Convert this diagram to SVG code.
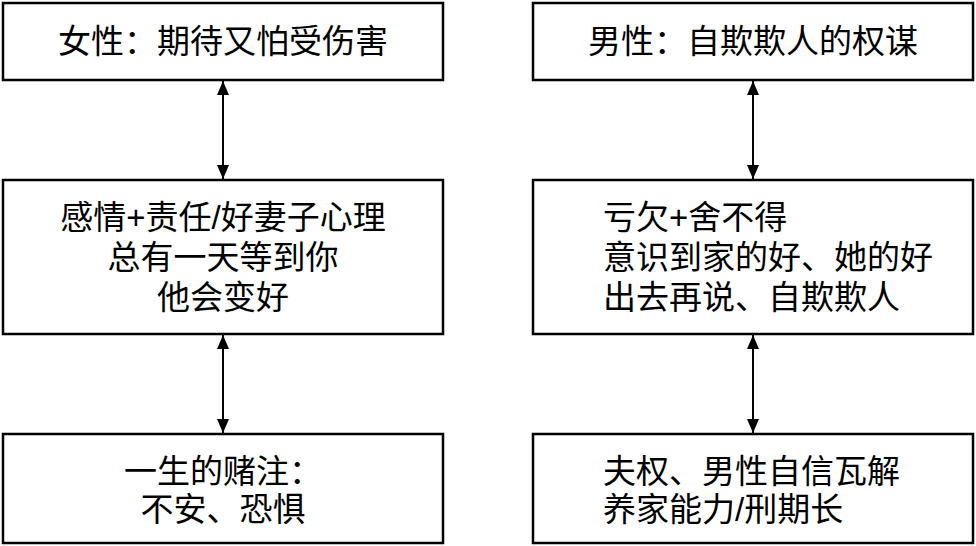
<svg xmlns="http://www.w3.org/2000/svg" width="976" height="546" viewBox="0 0 976 546">
<style>
.b{fill:#fff;stroke:#000;stroke-width:2.5}
text{font-family:"Liberation Sans","Noto Sans CJK SC",sans-serif;font-size:33px;fill:#000}
.c{text-anchor:middle}
.l{stroke:#000;stroke-width:2;fill:none}
</style>
<defs><marker id="a" viewBox="0 0 14 12" refX="14" refY="6" markerWidth="14" markerHeight="12" markerUnits="userSpaceOnUse" orient="auto-start-reverse"><path d="M0,0L14,6L0,12z"/></marker></defs>
<rect width="976" height="546" fill="#fff"/>
<g id="n1"><rect class="b" x="3" y="3" width="440" height="77"/><text class="c" x="223" y="53">女性：期待又怕受伤害</text></g>
<g id="n2"><rect class="b" x="533" y="3" width="440" height="77"/><text class="c" x="753" y="53">男性：自欺欺人的权谋</text></g>
<g id="n3"><rect class="b" x="3" y="180" width="440" height="154"/><text class="c" x="223" y="229">感情+责任/好妻子心理</text><text class="c" x="223" y="269">总有一天等到你</text><text class="c" x="223" y="309">他会变好</text></g>
<g id="n4"><rect class="b" x="533" y="180" width="440" height="154"/><text x="603" y="229">亏欠+舍不得</text><text x="603" y="269">意识到家的好、她的好</text><text x="603" y="309">出去再说、自欺欺人</text></g>
<g id="n5"><rect class="b" x="3" y="434" width="440" height="109"/><text class="c" x="223" y="483">一生的赌注：</text><text class="c" x="223" y="521">不安、恐惧</text></g>
<g id="n6"><rect class="b" x="533" y="434" width="440" height="109"/><text x="603" y="483">夫权、男性自信瓦解</text><text x="603" y="521">养家能力/刑期长</text></g>
<g id="edges">
<line class="l" x1="223" y1="81" x2="223" y2="179" marker-start="url(#a)" marker-end="url(#a)"/>
<line class="l" x1="223" y1="335" x2="223" y2="433" marker-start="url(#a)" marker-end="url(#a)"/>
<line class="l" x1="753" y1="81" x2="753" y2="179" marker-start="url(#a)" marker-end="url(#a)"/>
<line class="l" x1="753" y1="335" x2="753" y2="433" marker-start="url(#a)" marker-end="url(#a)"/>
</g>
</svg>
